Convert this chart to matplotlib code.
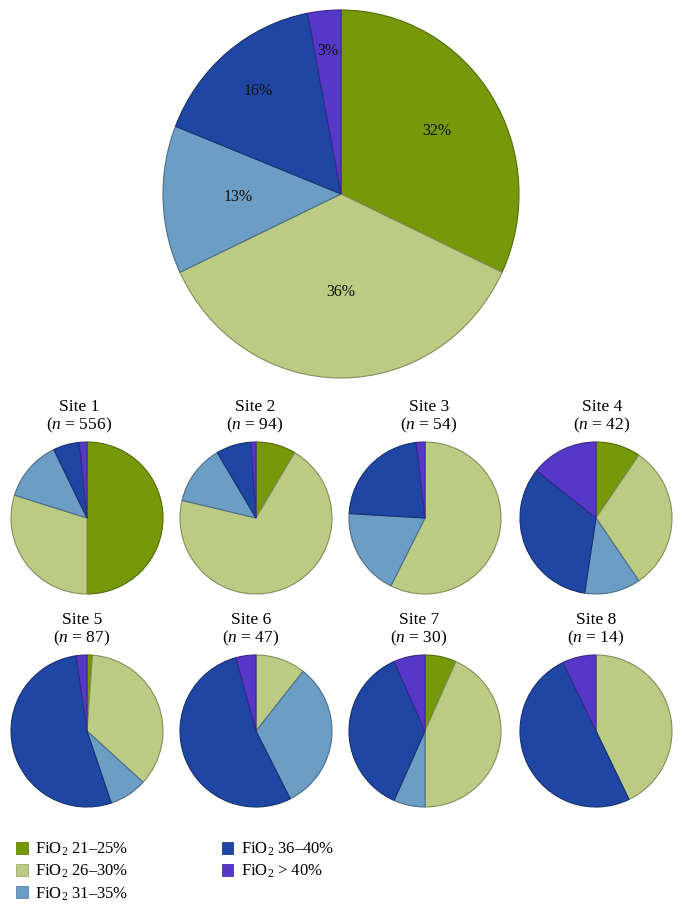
import matplotlib
matplotlib.use("Agg")
import matplotlib.pyplot as plt
import matplotlib.colors as mcolors
from matplotlib.patches import Patch
import numpy as np

plt.rcParams['font.family'] = ['Liberation Serif', 'DejaVu Serif']
plt.rcParams['mathtext.fontset'] = 'custom'
plt.rcParams['mathtext.rm'] = 'Liberation Serif'
plt.rcParams['mathtext.it'] = 'Liberation Serif:italic'

# categories (clockwise from 12 o'clock)
categories = ['FiO$_\\mathrm{2}$ 21\u201325%', 'FiO$_\\mathrm{2}$ 26\u201330%',
              'FiO$_\\mathrm{2}$ 31\u201335%', 'FiO$_\\mathrm{2}$ 36\u201340%',
              'FiO$_\\mathrm{2}$ > 40%']
colors = ['#76990A', '#BBCB84', '#6C9DC4', '#1F46A2', '#5538C8']

# overall distribution (%)
overall_pct = [32, 36, 13, 16, 3]

# per site counts
site_names = ['Site 1', 'Site 2', 'Site 3', 'Site 4', 'Site 5', 'Site 6', 'Site 7', 'Site 8']
site_n = [556, 94, 54, 42, 87, 47, 30, 14]
site1 = [278, 166, 72, 31, 9]
site2 = [8, 66, 12, 7, 1]
site3 = [0, 31, 10, 12, 1]
site4 = [4, 13, 5, 14, 6]
site5 = [1, 31, 7, 46, 2]
site6 = [0, 5, 15, 25, 2]
site7 = [2, 13, 2, 11, 2]
site8 = [0, 6, 0, 7, 1]
site_counts = [site1, site2, site3, site4, site5, site6, site7, site8]

W, H = 681, 908
fig = plt.figure(figsize=(W / 100, H / 100), dpi=100)


def darker(c, f=0.7):
    r, g, b = mcolors.to_rgb(c)
    return (r * f, g * f, b * f)


def px_axes(x0, y0, x1, y1):
    # pixel box (top-left origin) -> figure axes
    return fig.add_axes([x0 / W, 1 - y1 / H, (x1 - x0) / W, (y1 - y0) / H])


def draw_pie(ax, vals):
    wedges, _ = ax.pie(vals, colors=colors, startangle=90, counterclock=False,
                       radius=1, wedgeprops=dict(linewidth=0.8))
    for w, c in zip(wedges, colors):
        w.set_edgecolor(darker(c))
        w.set_clip_on(False)
    ax.set_aspect('auto')
    ax.set_xlim(-1, 1)
    ax.set_ylim(-1, 1)
    ax.axis('off')
    return wedges


# big pie
ax = px_axes(163, 10, 519, 378)
wedges = draw_pie(ax, overall_pct)
label_r = [0.64, 0.53, 0.58, 0.73, 0.78]
for w, v, d in zip(wedges, overall_pct, label_r):
    ang = np.deg2rad((w.theta1 + w.theta2) / 2)
    ax.text(d * np.cos(ang), d * np.sin(ang), f'{v}%', ha='center', va='center',
            fontsize=11.5, color='#111111')

# small pies
cx = [87, 256, 425, 596]
cy = [518, 731]
r = 76
title_x = [79, 255, 429, 602, 82, 251, 419, 596]
title_y = [407, 620]
for i, (name, n, vals) in enumerate(zip(site_names, site_n, site_counts)):
    row, col = divmod(i, 4)
    ax = px_axes(cx[col] - r, cy[row] - r, cx[col] + r, cy[row] + r)
    draw_pie(ax, vals)
    ty = title_y[row]
    fig.text(title_x[i] / W, 1 - ty / H, name, ha='center', va='center', fontsize=12.5)
    fig.text(title_x[i] / W, 1 - (ty + 18) / H, f'($n$ = {n})', ha='center', va='center',
             fontsize=12.5)

handles = [Patch(facecolor=c, edgecolor=darker(c, 0.85), linewidth=0.6) for c in colors]
fig.legend(handles, categories, loc='upper left', bbox_to_anchor=(16 / W, 1 - 841 / H),
           ncol=2, frameon=False, fontsize=12, handlelength=0.7, handleheight=0.7,
           handletextpad=0.45, columnspacing=5.6, labelspacing=0.28,
           borderpad=0, borderaxespad=0)

fig.savefig('out.png', dpi=100)
